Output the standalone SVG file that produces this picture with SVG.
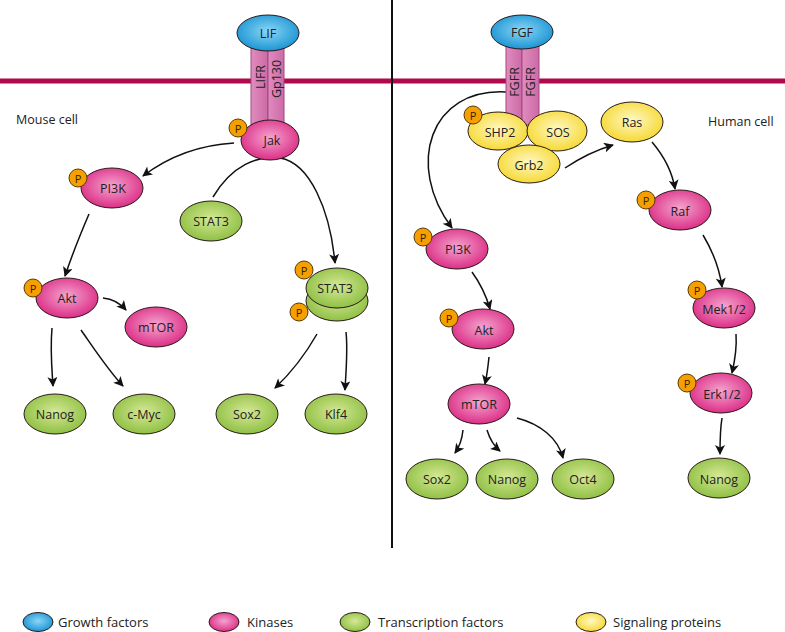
<svg xmlns="http://www.w3.org/2000/svg" width="785" height="632" viewBox="0 0 785 632">
<defs>
<radialGradient id="gBlue" cx="50%" cy="45%" r="55%"><stop offset="0" stop-color="#8ad6f7"/><stop offset="1" stop-color="#1c95d3"/></radialGradient>
<radialGradient id="gPink" cx="50%" cy="45%" r="55%"><stop offset="0" stop-color="#f4a4cf"/><stop offset="1" stop-color="#dc2f86"/></radialGradient>
<radialGradient id="gGreen" cx="50%" cy="45%" r="55%"><stop offset="0" stop-color="#d6e894"/><stop offset="1" stop-color="#8fc045"/></radialGradient>
<radialGradient id="gYellow" cx="50%" cy="45%" r="55%"><stop offset="0" stop-color="#fff8c4"/><stop offset="1" stop-color="#f6d935"/></radialGradient>
<linearGradient id="gRec" x1="0" y1="0" x2="1" y2="0"><stop offset="0" stop-color="#e08cbf"/><stop offset="1" stop-color="#cc6aa6"/></linearGradient>
<marker id="ah" viewBox="0 0 10 10" refX="9" refY="5" markerWidth="11" markerHeight="10" markerUnits="userSpaceOnUse" orient="auto"><path d="M0,0 L10,5 L0,10 L2.5,5 z" fill="#111"/></marker>
</defs>
<style>
.n{stroke:#2a1a1a;stroke-width:1}
.b{fill:url(#gBlue)}
.k{fill:url(#gPink)}
.g{fill:url(#gGreen)}
.y{fill:url(#gYellow)}
.p{fill:#f5a000;stroke:#5a3a00;stroke-width:1}
.rec{fill:url(#gRec);stroke:#a4467a;stroke-width:1}
text{font-family:"Open Sans","Noto Sans","Liberation Sans",sans-serif;font-size:12.5px;fill:#222}
.c{text-anchor:middle;dominant-baseline:central}
.pt{font-size:11px;text-anchor:middle;dominant-baseline:central;fill:#3a2000}
.con path{fill:none;stroke:#111;stroke-width:1.5}
</style>
<rect width="785" height="632" fill="#fff"/>
<rect x="0" y="78.5" width="785" height="5" fill="#b0094d"/>
<line x1="392" y1="0" x2="392" y2="548" stroke="#111" stroke-width="2"/>
<text x="16" y="124">Mouse cell</text>
<text x="708" y="126">Human cell</text>

<g class="con">
<path d="M234,143 C200,145 168,157 143,176" marker-end="url(#ah)"/>
<path d="M213,197 C232,165 258,155 280,158 C310,163 330,210 335,263" marker-end="url(#ah)"/>
<path d="M89,214 C80,235 72,255 65,276" marker-end="url(#ah)"/>
<path d="M103,298 C113,299 120,303 126,310" marker-end="url(#ah)"/>
<path d="M52,328 C50,350 52,370 53,386" marker-end="url(#ah)"/>
<path d="M81,330 C95,350 108,370 123,386" marker-end="url(#ah)"/>
<path d="M317,334 C305,355 292,372 275,388" marker-end="url(#ah)"/>
<path d="M346,332 C348,350 346,370 345,390" marker-end="url(#ah)"/>
<path d="M506,92 C430,88 405,165 452,228" marker-end="url(#ah)"/>
<path d="M472,272 C480,283 486,295 490,309" marker-end="url(#ah)"/>
<path d="M489,357 C488,367 487,375 485,384" marker-end="url(#ah)"/>
<path d="M463,430 C462,440 460,446 455,453" marker-end="url(#ah)"/>
<path d="M487,430 C490,440 494,446 500,451" marker-end="url(#ah)"/>
<path d="M517,418 C540,424 558,438 563,458" marker-end="url(#ah)"/>
<path d="M565,168 C580,158 596,150 613,145" marker-end="url(#ah)"/>
<path d="M652,142 C663,155 672,170 675,189" marker-end="url(#ah)"/>
<path d="M703,235 C712,250 719,265 722,287" marker-end="url(#ah)"/>
<path d="M736,334 C737,348 735,360 732,373" marker-end="url(#ah)"/>
<path d="M722,418 C720,430 720,442 720,454" marker-end="url(#ah)"/>
</g>

<g id="LIFR"><rect class="rec" x="251" y="45" width="17" height="85"/><text class="c" transform="translate(260,77) rotate(-90)">LIFR</text></g>
<g id="Gp130"><rect class="rec" x="268" y="45" width="16" height="85"/><text class="c" transform="translate(276,79) rotate(-90)">Gp130</text></g>
<g id="FGFR1"><rect class="rec" x="506" y="45" width="16" height="80"/><text class="c" transform="translate(514,82) rotate(-90)">FGFR</text></g>
<g id="FGFR2"><rect class="rec" x="522" y="45" width="17" height="80"/><text class="c" transform="translate(530,82) rotate(-90)">FGFR</text></g>

<g id="LIF"><ellipse class="n b" cx="268" cy="33" rx="31" ry="18"/><text class="c" x="268" y="33">LIF</text></g>
<g id="FGF"><ellipse class="n b" cx="522" cy="32" rx="31" ry="17"/><text class="c" x="522" y="32">FGF</text></g>
<g id="Jak"><ellipse class="n k" cx="270" cy="140" rx="29" ry="20"/><circle class="p" cx="238" cy="128" r="9"/><text class="pt" x="238" y="128">P</text><text class="c" x="272" y="140">Jak</text></g>

<g id="PI3K_m"><ellipse class="n k" cx="112" cy="188" rx="31" ry="20"/><circle class="p" cx="78" cy="178" r="9"/><text class="pt" x="78" y="178">P</text><text class="c" x="113" y="188">PI3K</text></g>
<g id="STAT3_m"><ellipse class="n g" cx="211" cy="221" rx="31" ry="20"/><text class="c" x="211" y="221">STAT3</text></g>
<g id="STAT3_dimer"><ellipse class="n g" cx="337" cy="301" rx="31" ry="20"/><ellipse class="n g" cx="337" cy="288" rx="31" ry="20"/><circle class="p" cx="304" cy="270" r="9"/><text class="pt" x="304" y="270">P</text><circle class="p" cx="299" cy="312" r="9"/><text class="pt" x="299" y="312">P</text><text class="c" x="335" y="288">STAT3</text></g>
<g id="Akt_m"><ellipse class="n k" cx="67" cy="298" rx="31" ry="20"/><circle class="p" cx="33" cy="288" r="9"/><text class="pt" x="33" y="288">P</text><text class="c" x="67" y="298">Akt</text></g>
<g id="mTOR_m"><ellipse class="n k" cx="156" cy="327" rx="31" ry="20"/><text class="c" x="156" y="327">mTOR</text></g>
<g id="Nanog_m"><ellipse class="n g" cx="55" cy="414" rx="31" ry="20"/><text class="c" x="55" y="414">Nanog</text></g>
<g id="cMyc"><ellipse class="n g" cx="144" cy="414" rx="31" ry="20"/><text class="c" x="144" y="414">c-Myc</text></g>
<g id="Sox2_m"><ellipse class="n g" cx="247" cy="414" rx="31" ry="20"/><text class="c" x="247" y="414">Sox2</text></g>
<g id="Klf4"><ellipse class="n g" cx="336" cy="414" rx="31" ry="20"/><text class="c" x="336" y="414">Klf4</text></g>

<g id="SHP2"><ellipse class="n y" cx="498" cy="131" rx="30" ry="19"/><circle class="p" cx="473" cy="115" r="9"/><text class="pt" x="473" y="115">P</text><text class="c" x="500" y="132">SHP2</text></g>
<g id="SOS"><ellipse class="n y" cx="557" cy="131" rx="30" ry="20"/><text class="c" x="558" y="132">SOS</text></g>
<g id="Grb2"><ellipse class="n y" cx="529" cy="164" rx="31" ry="19"/><text class="c" x="529" y="165">Grb2</text></g>
<g id="Ras"><ellipse class="n y" cx="632" cy="122" rx="31" ry="20"/><text class="c" x="632" y="122">Ras</text></g>
<g id="Raf"><ellipse class="n k" cx="680" cy="210" rx="31" ry="20"/><circle class="p" cx="646" cy="200" r="9"/><text class="pt" x="646" y="200">P</text><text class="c" x="680" y="211">Raf</text></g>
<g id="Mek"><ellipse class="n k" cx="724" cy="308" rx="31" ry="20"/><circle class="p" cx="697" cy="290" r="9"/><text class="pt" x="697" y="290">P</text><text class="c" x="724" y="309">Mek1/2</text></g>
<g id="Erk"><ellipse class="n k" cx="721" cy="393" rx="31" ry="20"/><circle class="p" cx="687" cy="383" r="9"/><text class="pt" x="687" y="383">P</text><text class="c" x="722" y="394">Erk1/2</text></g>
<g id="Nanog_h2"><ellipse class="n g" cx="719" cy="478" rx="31" ry="20"/><text class="c" x="719" y="479">Nanog</text></g>
<g id="PI3K_h"><ellipse class="n k" cx="457" cy="249" rx="31" ry="20"/><circle class="p" cx="423" cy="237" r="9"/><text class="pt" x="423" y="237">P</text><text class="c" x="458" y="249">PI3K</text></g>
<g id="Akt_h"><ellipse class="n k" cx="483" cy="329" rx="31" ry="20"/><circle class="p" cx="449" cy="318" r="9"/><text class="pt" x="449" y="318">P</text><text class="c" x="484" y="330">Akt</text></g>
<g id="mTOR_h"><ellipse class="n k" cx="479" cy="404" rx="31" ry="20"/><text class="c" x="479" y="404">mTOR</text></g>
<g id="Sox2_h"><ellipse class="n g" cx="437" cy="479" rx="31" ry="20"/><text class="c" x="437" y="479">Sox2</text></g>
<g id="Nanog_h"><ellipse class="n g" cx="507" cy="479" rx="31" ry="20"/><text class="c" x="507" y="479">Nanog</text></g>
<g id="Oct4"><ellipse class="n g" cx="583" cy="479" rx="31" ry="20"/><text class="c" x="583" y="479">Oct4</text></g>

<g id="legend">
<ellipse class="n b" cx="38" cy="622" rx="15" ry="9.5"/><text x="58" y="627" style="font-size:13px">Growth factors</text>
<ellipse class="n k" cx="224" cy="622" rx="15" ry="9.5"/><text x="247" y="627" style="font-size:13px">Kinases</text>
<ellipse class="n g" cx="355" cy="622" rx="15" ry="9.5"/><text x="378" y="627" style="font-size:13px">Transcription factors</text>
<ellipse class="n y" cx="591" cy="622" rx="15" ry="9.5"/><text x="613" y="627" style="font-size:13px">Signaling proteins</text>
</g>
</svg>
